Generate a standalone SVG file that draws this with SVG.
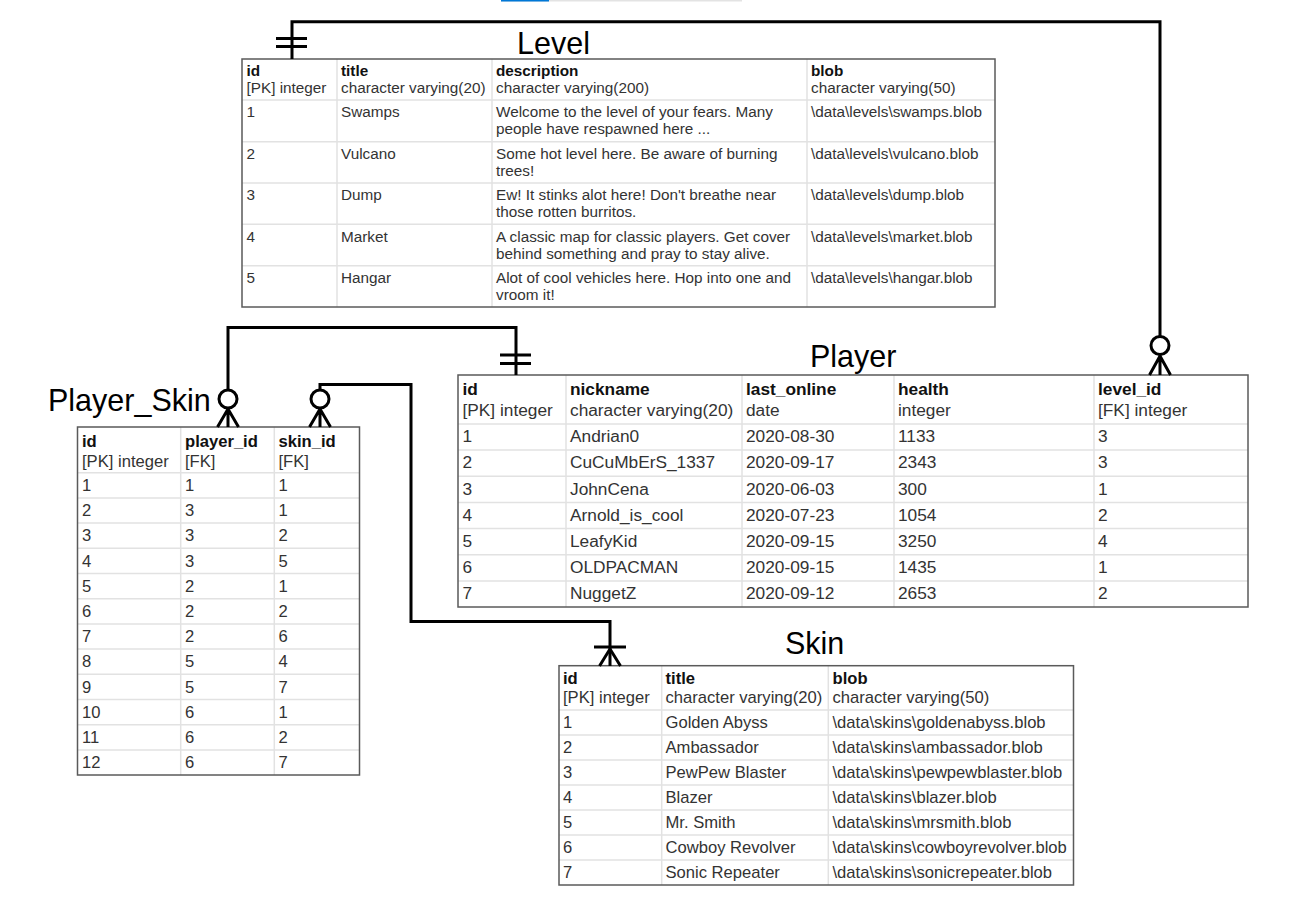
<svg xmlns="http://www.w3.org/2000/svg" width="1313" height="900" viewBox="0 0 1313 900">
<style>
text{font-family:"Liberation Sans",Arial,sans-serif;fill:#333}
.h{font-weight:bold;fill:#111}
.lv text{font-size:15.3px}
.pl text{font-size:17.3px}
.ps text{font-size:16.6px}
.sk text{font-size:16.6px}
text.title{font-size:30.5px;fill:#000;font-weight:normal}
.outer{fill:none;stroke:#5a5a5a;stroke-width:1.5}
.bg{fill:#fff}
.grid{stroke:#e2e2e2;stroke-width:1.5;fill:none}
.conn{stroke:#000;stroke-width:3;fill:none}
.circ{stroke:#000;stroke-width:3;fill:#fff}
</style>
<rect x="501" y="0" width="241" height="1.5" fill="#e3e3e3"/>
<rect x="501" y="0" width="48" height="1.5" fill="#0078d7"/>

<g id="Level" class="lv">
<text class="title" x="517" y="53.5">Level</text>
<rect class="bg" x="242" y="59" width="753" height="248"/>
<path class="grid" d="M337,59V307M492,59V307M807,59V307M242,100H995M242,141.7H995M242,183H995M242,224.3H995M242,265.7H995"/>
<rect class="outer" x="242" y="59" width="753" height="248"/>
<text class="h" x="246.5" y="76">id</text><text x="246.5" y="93">[PK] integer</text>
<text class="h" x="341" y="76">title</text><text x="341" y="93">character varying(20)</text>
<text class="h" x="496" y="76">description</text><text x="496" y="93">character varying(200)</text>
<text class="h" x="811" y="76">blob</text><text x="811" y="93">character varying(50)</text>
<text x="246.5" y="117.3">1</text><text x="341" y="117.3">Swamps</text><text x="496" y="117.3">Welcome to the level of your fears. Many</text><text x="496" y="134.3">people have respawned here ...</text><text x="811" y="117.3">\data\levels\swamps.blob</text>
<text x="246.5" y="159">2</text><text x="341" y="159">Vulcano</text><text x="496" y="159">Some hot level here. Be aware of burning</text><text x="496" y="176">trees!</text><text x="811" y="159">\data\levels\vulcano.blob</text>
<text x="246.5" y="200.3">3</text><text x="341" y="200.3">Dump</text><text x="496" y="200.3">Ew! It stinks alot here! Don't breathe near</text><text x="496" y="217.3">those rotten burritos.</text><text x="811" y="200.3">\data\levels\dump.blob</text>
<text x="246.5" y="241.6">4</text><text x="341" y="241.6">Market</text><text x="496" y="241.6">A classic map for classic players. Get cover</text><text x="496" y="258.6">behind something and pray to stay alive.</text><text x="811" y="241.6">\data\levels\market.blob</text>
<text x="246.5" y="283">5</text><text x="341" y="283">Hangar</text><text x="496" y="283">Alot of cool vehicles here. Hop into one and</text><text x="496" y="300">vroom it!</text><text x="811" y="283">\data\levels\hangar.blob</text>
</g>

<g id="Player" class="pl">
<text class="title" x="810" y="367">Player</text>
<rect class="bg" x="458" y="375" width="790" height="232"/>
<path class="grid" d="M566,375V607M742,375V607M894,375V607M1094,375V607M458,424H1248M458,450.1H1248M458,476.3H1248M458,502.4H1248M458,528.6H1248M458,554.7H1248M458,580.9H1248"/>
<rect class="outer" x="458" y="375" width="790" height="232"/>
<text class="h" x="462.5" y="395">id</text><text x="462.5" y="416">[PK] integer</text>
<text class="h" x="570" y="395">nickname</text><text x="570" y="416">character varying(20)</text>
<text class="h" x="746" y="395">last_online</text><text x="746" y="416">date</text>
<text class="h" x="898" y="395">health</text><text x="898" y="416">integer</text>
<text class="h" x="1098" y="395">level_id</text><text x="1098" y="416">[FK] integer</text>
<text x="462.5" y="442.2">1</text><text x="570" y="442.2">Andrian0</text><text x="746" y="442.2">2020-08-30</text><text x="898" y="442.2">1133</text><text x="1098" y="442.2">3</text>
<text x="462.5" y="468.3">2</text><text x="570" y="468.3">CuCuMbErS_1337</text><text x="746" y="468.3">2020-09-17</text><text x="898" y="468.3">2343</text><text x="1098" y="468.3">3</text>
<text x="462.5" y="494.5">3</text><text x="570" y="494.5">JohnCena</text><text x="746" y="494.5">2020-06-03</text><text x="898" y="494.5">300</text><text x="1098" y="494.5">1</text>
<text x="462.5" y="520.6">4</text><text x="570" y="520.6">Arnold_is_cool</text><text x="746" y="520.6">2020-07-23</text><text x="898" y="520.6">1054</text><text x="1098" y="520.6">2</text>
<text x="462.5" y="546.8">5</text><text x="570" y="546.8">LeafyKid</text><text x="746" y="546.8">2020-09-15</text><text x="898" y="546.8">3250</text><text x="1098" y="546.8">4</text>
<text x="462.5" y="572.9">6</text><text x="570" y="572.9">OLDPACMAN</text><text x="746" y="572.9">2020-09-15</text><text x="898" y="572.9">1435</text><text x="1098" y="572.9">1</text>
<text x="462.5" y="599.1">7</text><text x="570" y="599.1">NuggetZ</text><text x="746" y="599.1">2020-09-12</text><text x="898" y="599.1">2653</text><text x="1098" y="599.1">2</text>
</g>

<g id="Player_Skin" class="ps">
<text class="title" x="48" y="411">Player_Skin</text>
<rect class="bg" x="77.5" y="427" width="282" height="348"/>
<path class="grid" d="M180.7,427V775M274.3,427V775M77.5,472.7H359.5M77.5,497.9H359.5M77.5,523.1H359.5M77.5,548.3H359.5M77.5,573.5H359.5M77.5,598.7H359.5M77.5,623.9H359.5M77.5,649.1H359.5M77.5,674.3H359.5M77.5,699.5H359.5M77.5,724.7H359.5M77.5,749.9H359.5"/>
<rect class="outer" x="77.5" y="427" width="282" height="348"/>
<text class="h" x="82" y="446.5">id</text><text x="82" y="466.5">[PK] integer</text>
<text class="h" x="185" y="446.5">player_id</text><text x="185" y="466.5">[FK]</text>
<text class="h" x="278.5" y="446.5">skin_id</text><text x="278.5" y="466.5">[FK]</text>
<text x="82" y="490.9">1</text><text x="185" y="490.9">1</text><text x="278.5" y="490.9">1</text>
<text x="82" y="516.1">2</text><text x="185" y="516.1">3</text><text x="278.5" y="516.1">1</text>
<text x="82" y="541.3">3</text><text x="185" y="541.3">3</text><text x="278.5" y="541.3">2</text>
<text x="82" y="566.5">4</text><text x="185" y="566.5">3</text><text x="278.5" y="566.5">5</text>
<text x="82" y="591.7">5</text><text x="185" y="591.7">2</text><text x="278.5" y="591.7">1</text>
<text x="82" y="616.9">6</text><text x="185" y="616.9">2</text><text x="278.5" y="616.9">2</text>
<text x="82" y="642.1">7</text><text x="185" y="642.1">2</text><text x="278.5" y="642.1">6</text>
<text x="82" y="667.3">8</text><text x="185" y="667.3">5</text><text x="278.5" y="667.3">4</text>
<text x="82" y="692.5">9</text><text x="185" y="692.5">5</text><text x="278.5" y="692.5">7</text>
<text x="82" y="717.7">10</text><text x="185" y="717.7">6</text><text x="278.5" y="717.7">1</text>
<text x="82" y="742.9">11</text><text x="185" y="742.9">6</text><text x="278.5" y="742.9">2</text>
<text x="82" y="768.1">12</text><text x="185" y="768.1">6</text><text x="278.5" y="768.1">7</text>
</g>

<g id="Skin" class="sk">
<text class="title" x="785" y="654">Skin</text>
<rect class="bg" x="559" y="665.7" width="514.5" height="219.3"/>
<path class="grid" d="M661.7,665.7V885M828.3,665.7V885M559,710H1073.5M559,735H1073.5M559,760H1073.5M559,785H1073.5M559,810H1073.5M559,835H1073.5M559,860H1073.5"/>
<rect class="outer" x="559" y="665.7" width="514.5" height="219.3"/>
<text class="h" x="563" y="684">id</text><text x="563" y="703">[PK] integer</text>
<text class="h" x="665.5" y="684">title</text><text x="665.5" y="703">character varying(20)</text>
<text class="h" x="832.5" y="684">blob</text><text x="832.5" y="703">character varying(50)</text>
<text x="563" y="728.3">1</text><text x="665.5" y="728.3">Golden Abyss</text><text x="832.5" y="728.3">\data\skins\goldenabyss.blob</text>
<text x="563" y="753.3">2</text><text x="665.5" y="753.3">Ambassador</text><text x="832.5" y="753.3">\data\skins\ambassador.blob</text>
<text x="563" y="778.3">3</text><text x="665.5" y="778.3">PewPew Blaster</text><text x="832.5" y="778.3">\data\skins\pewpewblaster.blob</text>
<text x="563" y="803.3">4</text><text x="665.5" y="803.3">Blazer</text><text x="832.5" y="803.3">\data\skins\blazer.blob</text>
<text x="563" y="828.3">5</text><text x="665.5" y="828.3">Mr. Smith</text><text x="832.5" y="828.3">\data\skins\mrsmith.blob</text>
<text x="563" y="853.3">6</text><text x="665.5" y="853.3">Cowboy Revolver</text><text x="832.5" y="853.3">\data\skins\cowboyrevolver.blob</text>
<text x="563" y="878.3">7</text><text x="665.5" y="878.3">Sonic Repeater</text><text x="832.5" y="878.3">\data\skins\sonicrepeater.blob</text>
</g>

<g id="connectors">
<path class="conn" d="M292,59V21.7H1160V336"/>
<path class="conn" d="M276,38.5H307M276,46.5H307"/>
<path class="conn" d="M1160,354V375M1160,356L1149.5,375M1160,356L1170.5,375"/>
<circle class="circ" cx="1160" cy="345.5" r="9"/>

<path class="conn" d="M516,375V327.5H228V390"/>
<path class="conn" d="M500,355H531M500,363.5H531"/>
<path class="conn" d="M228,407V427M228,409L217.5,427M228,409L238.5,427"/>
<circle class="circ" cx="228" cy="399" r="9"/>

<path class="conn" d="M320,390V384.5H411V621.5H610V666"/>
<path class="conn" d="M594,647H626"/>
<path class="conn" d="M610,649L599.5,666M610,649L620.5,666"/>
<path class="conn" d="M320,407V427M320,409L309.5,427M320,409L330.5,427"/>
<circle class="circ" cx="320" cy="399" r="9"/>
</g>
</svg>
